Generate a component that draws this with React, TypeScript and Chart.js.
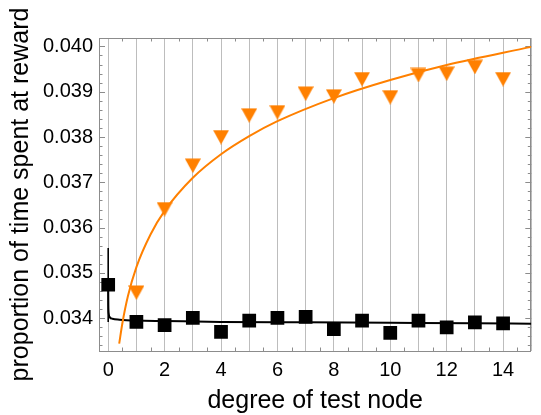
import { useEffect, useRef } from 'react';
import { Chart, registerables } from 'chart.js';

Chart.register(...registerables);

// ---- data ----
const squareDegrees = [0, 1, 2, 3, 4, 5, 6, 7, 8, 9, 10, 11, 12, 13, 14];
const squareValues = [0.03474, 0.03392, 0.03385, 0.03401, 0.0337, 0.03395, 0.03401, 0.03403, 0.03376, 0.03395, 0.03368, 0.03395, 0.0338, 0.03391, 0.03389];

const triangleDegrees = [1, 2, 3, 4, 5, 6, 7, 8, 9, 10, 11, 12, 13, 14];
const triangleValues = [0.03457, 0.03641, 0.03737, 0.038, 0.03848, 0.03855, 0.03896, 0.0389, 0.03928, 0.03888, 0.03937, 0.0394, 0.03955, 0.03928];

const blackCurveX = [0, 0.005, 0.02, 0.06, 0.15, 0.4, 1, 2, 4, 7, 10, 13, 15];
const blackCurveY = [0.03474, 0.0343, 0.0341, 0.03402, 0.03399, 0.03397, 0.03395, 0.03394, 0.03392, 0.03391, 0.0339, 0.03389, 0.03388];

const orangeCurveX = [0.39, 0.5, 0.7, 1, 1.5, 2, 3, 4, 5, 6, 8, 10, 12, 15];
const orangeCurveY = [0.03344, 0.03388, 0.03449, 0.03513, 0.03585, 0.03637, 0.0371, 0.03762, 0.03802, 0.03835, 0.03886, 0.03926, 0.03959, 0.03999];

const errorBarX = [0, 0];
const errorBarY = [0.03392, 0.03555];

const xGridValues = [0, 1, 2, 3, 4, 5, 6, 7, 8, 9, 10, 11, 12, 13, 14, 15];
const xTickLabels = [0, 2, 4, 6, 8, 10, 12, 14];
const yTickValues = [0.034, 0.035, 0.036, 0.037, 0.038, 0.039, 0.04];

const xMin = -0.326;
const xMax = 15;
const yMin = 0.033278;
const yMax = 0.040186;

const xTitle = 'degree of test node';
const yTitle = 'proportion of time spent at reward';

const ORANGE = '#FF8000';
const FONT = "'Liberation Sans', Arial, sans-serif";

const pairs = (xs: number[], ys: number[]) => xs.map((x, i) => ({ x, y: ys[i] }));

const framePlugin = {
  id: 'frameTicks',
  beforeDatasetsDraw(chart: any) {
    const { ctx, chartArea: a, scales } = chart;
    const xs = scales.x;
    const ys = scales.y;
    ctx.save();
    ctx.strokeStyle = '#8c8c8c';
    ctx.lineWidth = 1;
    ctx.beginPath();
    // minor x ticks (half units) on bottom and top
    for (let k = 1; k < 30; k += 2) {
      const px = Math.round(xs.getPixelForValue(k / 2)) + 0.5;
      ctx.moveTo(px, a.bottom);
      ctx.lineTo(px, a.bottom - 3.5);
      ctx.moveTo(px, a.top);
      ctx.lineTo(px, a.top + 3.5);
    }
    // y ticks every 0.0002, major at 0.001
    for (let k = 167; k <= 201; k++) {
      const v = k * 0.0002;
      if (v < yMin || v > yMax) continue;
      const major = k % 5 === 0;
      const len = major ? 6 : 3.5;
      const py = Math.round(ys.getPixelForValue(v)) + 0.5;
      ctx.moveTo(a.left, py);
      ctx.lineTo(a.left + len, py);
      ctx.moveTo(a.right, py);
      ctx.lineTo(a.right - len, py);
    }
    ctx.stroke();
    ctx.strokeRect(Math.round(a.left) + 0.5, Math.round(a.top) + 0.5, Math.round(a.right - a.left) - 1, Math.round(a.bottom - a.top));
    ctx.restore();
  },
};

export default function App() {
  const ref = useRef<HTMLCanvasElement | null>(null);

  useEffect(() => {
    if (!ref.current) return;
    const tri = document.createElement('canvas');
    tri.width = 16;
    tri.height = 15;
    const tc = tri.getContext('2d')!;
    tc.fillStyle = ORANGE;
    tc.beginPath();
    tc.moveTo(0, 0.5);
    tc.lineTo(16, 0.5);
    tc.lineTo(8, 15);
    tc.closePath();
    tc.fill();

    const chart = new Chart(ref.current, {
      type: 'scatter',
      data: {
        datasets: [
          {
            label: 'triangles',
            data: pairs(triangleDegrees, triangleValues),
            pointStyle: tri as any,
            pointRadius: 8,
            showLine: false,
            order: 1,
          },
          {
            label: 'squares',
            data: pairs(squareDegrees, squareValues),
            pointStyle: 'rect',
            pointRadius: 9.7,
            backgroundColor: '#000',
            borderWidth: 0,
            showLine: false,
            order: 2,
          },
          {
            label: 'error',
            data: pairs(errorBarX, errorBarY),
            showLine: true,
            borderColor: '#000',
            borderWidth: 1.6,
            pointRadius: 0,
            order: 3,
          },
          {
            label: 'orange fit',
            data: pairs(orangeCurveX, orangeCurveY),
            showLine: true,
            borderColor: ORANGE,
            borderWidth: 2,
            pointRadius: 0,
            cubicInterpolationMode: 'monotone',
            order: 4,
          },
          {
            label: 'black fit',
            data: pairs(blackCurveX, blackCurveY),
            showLine: true,
            borderColor: '#000',
            borderWidth: 2,
            pointRadius: 0,
            cubicInterpolationMode: 'monotone',
            order: 5,
          },
        ] as any,
      },
      options: {
        animation: false,
        responsive: false,
        events: [],
        layout: { padding: { top: 38, right: 4, left: 0, bottom: 0 } },
        plugins: { legend: { display: false }, tooltip: { enabled: false } },
        scales: {
          x: {
            type: 'linear',
            min: xMin,
            max: xMax,
            afterBuildTicks: (s: any) => {
              s.ticks = xGridValues.map((v) => ({ value: v }));
            },
            afterFit: (s: any) => {
              s.height = 64;
            },
            ticks: {
              autoSkip: false,
              maxRotation: 0,
              padding: 7,
              color: '#000',
              font: { family: FONT, size: 20 },
              callback: (v: any) => (xTickLabels.includes(Number(v)) ? String(v) : ''),
            },
            grid: { color: '#bdbdbd', lineWidth: 1, drawTicks: false },
            border: { display: false },
            title: {
              display: true,
              text: xTitle,
              color: '#000',
              font: { family: FONT, size: 25, lineHeight: 1.1 },
              padding: { top: 0, bottom: 0 },
            },
          },
          y: {
            type: 'linear',
            min: yMin,
            max: yMax,
            afterBuildTicks: (s: any) => {
              s.ticks = yTickValues.map((v) => ({ value: v }));
            },
            afterFit: (s: any) => {
              s.width = 99;
            },
            ticks: {
              autoSkip: false,
              padding: 6,
              color: '#000',
              font: { family: FONT, size: 20 },
              callback: (v: any) => Number(v).toFixed(3),
            },
            grid: { display: false, drawTicks: false },
            border: { display: false },
            title: {
              display: true,
              text: yTitle,
              color: '#000',
              font: { family: FONT, size: 25, lineHeight: 1.2 },
              padding: { top: 6, bottom: 0 },
            },
          },
        },
      } as any,
      plugins: [framePlugin],
    });
    return () => chart.destroy();
  }, []);

  return (
    <div style={{ position: 'absolute', left: 0, top: 0, width: 541, height: 415, background: '#fff' }}>
      <canvas ref={ref} width={541} height={415} style={{ width: 541, height: 415, display: 'block' }} />
    </div>
  );
}
